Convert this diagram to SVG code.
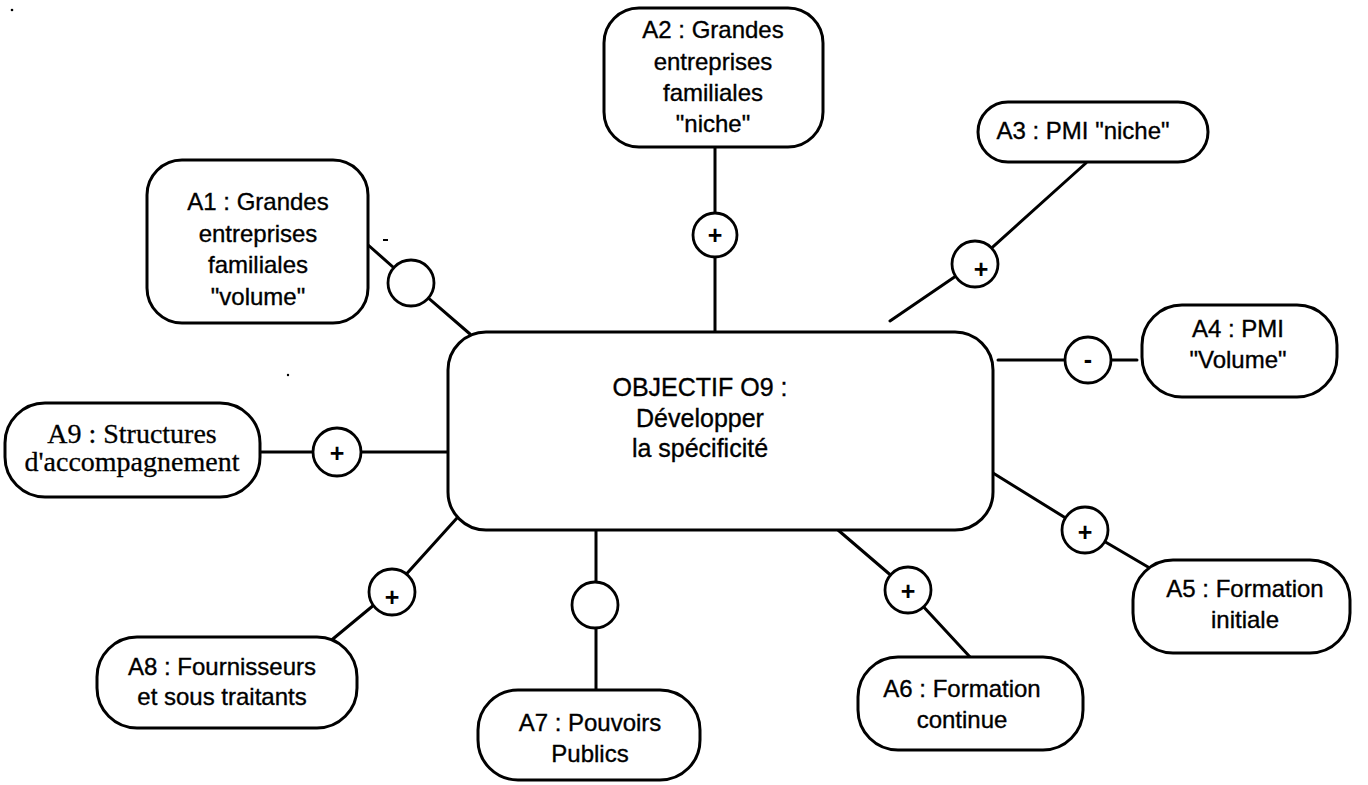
<svg xmlns="http://www.w3.org/2000/svg" width="1368" height="785" viewBox="0 0 1368 785">
<style>
.box{fill:#fff;stroke:#000;stroke-width:3}
.con{fill:none;stroke:#000;stroke-width:3;stroke-linecap:round;stroke-linejoin:round}
.sig{fill:#fff;stroke:#000;stroke-width:2.8}
.t{font-family:"Liberation Sans",Arial,Helvetica,sans-serif;font-size:24px;fill:#000;stroke:#000;stroke-width:0.35;text-anchor:middle}
.tc{font-size:25px}
.ts{font-family:"Liberation Serif","Times New Roman",serif;font-size:28px;fill:#000;stroke:#000;stroke-width:0.3;text-anchor:middle}
.op{font-family:"Liberation Sans",Arial,sans-serif;font-size:25px;font-weight:bold;fill:#000;text-anchor:middle}
</style>
<rect width="1368" height="785" fill="#fff"/>
<g id="connectors">
<polyline class="con" points="367,244 411,283 470,334"/>
<polyline class="con" points="715,147 715,332"/>
<polyline class="con" points="1086,163 975,263 890,321"/>
<polyline class="con" points="998,360 1137,360"/>
<polyline class="con" points="993,473 1085,530 1148,567"/>
<polyline class="con" points="838,530 908,590 970,657"/>
<polyline class="con" points="596,530 596,690"/>
<polyline class="con" points="457,518 392,590 328,643"/>
<polyline class="con" points="260,452 448,452"/>
<circle class="sig" cx="411" cy="283" r="23"/>
<circle class="sig" cx="715" cy="235" r="22"/>
<text class="op" x="715" y="244">+</text>
<circle class="sig" cx="975" cy="264" r="23"/>
<text class="op" x="981" y="278">+</text>
<circle class="sig" cx="1088" cy="360" r="23"/>
<text class="op" x="1088" y="368">-</text>
<circle class="sig" cx="1085" cy="530" r="23"/>
<text class="op" x="1085" y="541">+</text>
<circle class="sig" cx="908" cy="590" r="23"/>
<text class="op" x="908" y="600">+</text>
<circle class="sig" cx="595" cy="605" r="23"/>
<circle class="sig" cx="392" cy="592" r="23"/>
<text class="op" x="392" y="606">+</text>
<circle class="sig" cx="337" cy="452" r="24"/>
<text class="op" x="337" y="462">+</text>
</g>
<g id="O9">
<rect class="box" x="448" y="332" width="545" height="198" rx="38"/>
<text class="t tc" x="700" y="396">OBJECTIF O9 :</text>
<text class="t tc" x="700" y="427">Développer</text>
<text class="t tc" x="700" y="457">la spécificité</text>
</g>
<g id="A1">
<rect class="box" x="147" y="160" width="221" height="163" rx="35"/>
<text class="t" x="258" y="210">A1 : Grandes</text>
<text class="t" x="258" y="242">entreprises</text>
<text class="t" x="258" y="273">familiales</text>
<text class="t" x="258" y="305">"volume"</text>
</g>
<g id="A2">
<rect class="box" x="604" y="8" width="219" height="139" rx="35"/>
<text class="t" x="713" y="38">A2 : Grandes</text>
<text class="t" x="713" y="70">entreprises</text>
<text class="t" x="713" y="101">familiales</text>
<text class="t" x="713" y="132">"niche"</text>
</g>
<g id="A3">
<rect class="box" x="978" y="102" width="230" height="60" rx="30"/>
<text class="t" x="1083" y="139">A3 : PMI "niche"</text>
</g>
<g id="A4">
<rect class="box" x="1142" y="305" width="195" height="92" rx="40"/>
<text class="t" x="1238" y="337">A4 : PMI</text>
<text class="t" x="1238" y="368">"Volume"</text>
</g>
<g id="A5">
<rect class="box" x="1133" y="560" width="217" height="93" rx="40"/>
<text class="t" x="1245" y="597">A5 : Formation</text>
<text class="t" x="1245" y="628">initiale</text>
</g>
<g id="A6">
<rect class="box" x="858" y="657" width="225" height="93" rx="40"/>
<text class="t" x="962" y="697">A6 : Formation</text>
<text class="t" x="962" y="728">continue</text>
</g>
<g id="A7">
<rect class="box" x="478" y="690" width="222" height="90" rx="40"/>
<text class="t" x="590" y="731">A7 : Pouvoirs</text>
<text class="t" x="590" y="762">Publics</text>
</g>
<g id="A8">
<rect class="box" x="97" y="637" width="260" height="91" rx="40"/>
<text class="t" x="222" y="675">A8 : Fournisseurs</text>
<text class="t" x="222" y="705">et sous traitants</text>
</g>
<g id="A9">
<rect class="box" x="5" y="403" width="255" height="94" rx="40"/>
<text class="ts" x="132" y="443">A9 : Structures</text>
<text class="ts" x="132" y="471">d'accompagnement</text>
</g>
<g id="specks" fill="#000">
<circle cx="12" cy="10" r="1.3"/>
<rect x="383" y="239" width="5" height="2"/>
<circle cx="288" cy="375" r="1.2"/>
</g>
</svg>
